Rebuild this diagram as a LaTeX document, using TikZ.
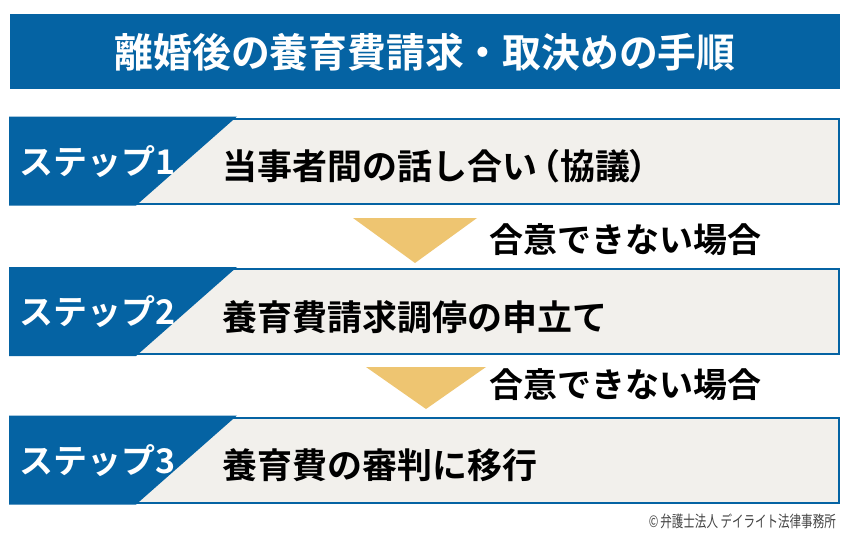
\documentclass[tikz,border=0pt]{standalone}
\usepackage{fontspec}
\setmainfont{Noto Sans CJK JP}[BoldFont={* Bold}]
\newfontfamily\jp{Noto Sans CJK JP}[BoldFont={* Bold}]
\definecolor{mblue}{HTML}{0563A3}
\definecolor{mbeige}{HTML}{F2F0EC}
\definecolor{mgold}{HTML}{EEC571}
\definecolor{mgray}{HTML}{444444}
\tikzset{
  titlebar/.style={fill=mblue, minimum width=830pt, minimum height=75pt, inner sep=0pt},
  stepbox/.style={fill=mbeige, draw=mblue, line width=2pt, minimum width=828pt, minimum height=85pt, inner sep=0pt},
  steplabel/.style={text=white, font=\jp\bfseries\fontsize{34}{34}\selectfont, anchor=west, inner sep=0pt},
  steptext/.style={text=black, font=\jp\bfseries\fontsize{35}{35}\selectfont, anchor=west, inner sep=0pt},
  condtext/.style={text=black, font=\jp\bfseries\fontsize{34}{34}\selectfont, anchor=west, inner sep=0pt},
  arrowtri/.style={fill=mgold},
}
\begin{document}
\begin{tikzpicture}[x=1pt,y=-1pt]
\useasboundingbox (0,0) rectangle (850,538);
\fill[white] (0,0) rectangle (850,538);
% title
\node[titlebar] (title) at (425,51.5) {};
\node[text=white, font=\jp\bfseries\fontsize{40}{40}\selectfont, inner sep=0pt] (titletext) at (425,52) {\scalebox{0.97}[1]{離婚後の養育費請求・取決めの手順}};
% step boxes
\node[stepbox] (s1) at (425,161) {};
\node[stepbox] (s2) at (425,311.5) {};
\node[stepbox] (s3) at (425,460) {};
\foreach \b in {s1,s2,s3}{
  \fill[mblue] ([xshift=-1pt,yshift=1pt]\b.north west) -- ([xshift=227pt,yshift=1pt]\b.north west) -- ([xshift=126pt,yshift=-1pt]\b.south west) -- ([xshift=-1pt,yshift=-1pt]\b.south west) -- cycle;
}
\node[steplabel] (l1) at (19,162) {ステップ1};
\node[steplabel] (l2) at (19,312) {ステップ2};
\node[steplabel] (l3) at (19,461) {ステップ3};
\node[steptext] (t1) at (222,166) {当事者間の話し合い\kern-12pt（協議\kern-2pt）};
\node[steptext] (t2) at (222,317) {養育費請求調停の申立て};
\node[steptext] (t3) at (222,465) {養育費の審判に移行};
% arrows
\coordinate (a1) at (415,218);
\fill[arrowtri] ([xshift=-62pt]a1) -- ([xshift=62pt]a1) -- ([yshift=-45pt]a1) -- cycle;
\coordinate (a2) at (426,367);
\fill[arrowtri] ([xshift=-60pt]a2) -- ([xshift=60pt]a2) -- ([yshift=-42pt]a2) -- cycle;
\node[condtext] (c1) at (489,240) {合意できない場合};
\node[condtext] (c2) at (489,385) {合意できない場合};
% copyright
\node[text=mgray, font=\jp\fontsize{16}{16}\selectfont, anchor=east, inner sep=0pt] (copy) at (836,521) {\scalebox{0.72}[1]{©\,弁護士法人 デイライト法律事務所}};
\end{tikzpicture}
\end{document}
